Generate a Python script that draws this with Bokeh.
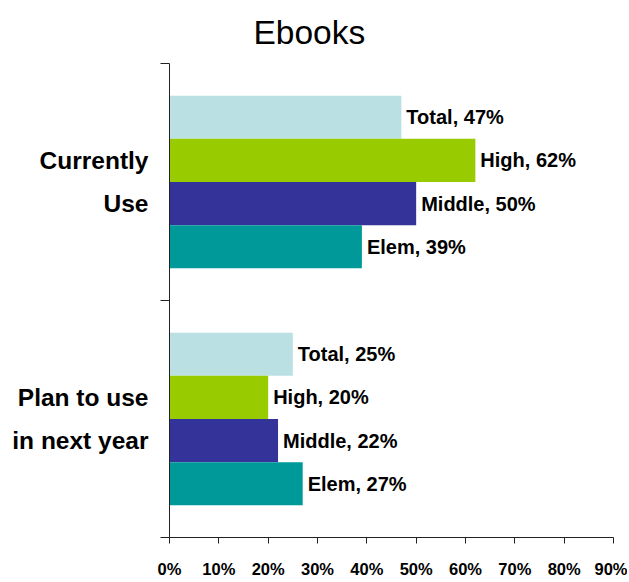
from bokeh.plotting import figure
from bokeh.models import ColumnDataSource, FixedTicker, Range1d
from bokeh.core.properties import value
from bokeh.embed import file_html
from bokeh.resources import INLINE

# ---- data ----
groups = ["Currently\nUse", "Plan to use\nin next year"]
series = ["Total", "High", "Middle", "Elem"]
currently_use = [47, 62, 50, 39]
plan_next_year = [25, 20, 22, 27]
x_ticks = [0, 10, 20, 30, 40, 50, 60, 70, 80, 90]
x_tick_labels = ["0%", "10%", "20%", "30%", "40%", "50%", "60%", "70%", "80%", "90%"]
colors = ["#BAE0E4", "#99CC00", "#333399", "#009999"]

FONT = "Liberation Sans"

# group centres: first group on top
group_pos = [1.5, 0.5]
offsets = [0.273, 0.091, -0.091, -0.273]
bar_h = 0.182

ys, rights, cols, labels = [], [], [], []
for gi, vals in enumerate([currently_use, plan_next_year]):
    for si, v in enumerate(vals):
        ys.append(group_pos[gi] + offsets[si])
        rights.append(v)
        cols.append(colors[si])
        labels.append(f"{series[si]}, {v}%")

src = ColumnDataSource(dict(y=ys, right=rights, color=cols, label=labels))

p = figure(frame_width=444, frame_height=474, output_backend="svg", toolbar_location=None,
           x_range=Range1d(0, 90), y_range=Range1d(0, 2),
           min_border_left=169, min_border_right=14, min_border_top=63,
           min_border_bottom=10, title="Ebooks")
p.outline_line_color = None
p.xgrid.grid_line_color = None
p.ygrid.grid_line_color = None

p.title.text_font = FONT
p.title.text_font_style = "normal"
p.title.text_font_size = "33.5px"
p.title.text_color = "black"
p.title.align = "left"
p.title.vertical_align = "top"
p.title.offset = 84
p.title.standoff = 22

p.hbar(y="y", left=0, right="right", height=bar_h, color="color", line_color=None, source=src)
p.text(x="right", y="y", text="label", source=src, x_offset=5, text_baseline="middle",
       text_align="left", text_font=value(FONT), text_font_style="bold",
       text_font_size="20px", text_color="black")

# x axis
xa = p.xaxis[0]
xa.ticker = FixedTicker(ticks=x_ticks, minor_ticks=[])
xa.major_label_overrides = {t: l for t, l in zip(x_ticks, x_tick_labels)}
xa.major_tick_in = 0
xa.major_tick_out = 6
xa.minor_tick_line_color = None
xa.axis_line_color = "#222222"
xa.major_tick_line_color = "#222222"
xa.major_label_text_font = FONT
xa.major_label_text_font_style = "bold"
xa.major_label_text_font_size = "16.5px"
xa.major_label_text_color = "black"
xa.major_label_standoff = 16

# y axis: boundary ticks as minor ticks, category names at group centres
ya = p.yaxis[0]
ya.ticker = FixedTicker(ticks=group_pos, minor_ticks=[0, 1, 2])
ya.major_label_overrides = {group_pos[i]: groups[i] for i in range(len(groups))}
ya.major_tick_in = 0
ya.major_tick_out = 0
ya.major_tick_line_color = None
ya.minor_tick_in = 0
ya.minor_tick_out = 9
ya.minor_tick_line_color = "#222222"
ya.axis_line_color = "#222222"
ya.major_label_text_font = FONT
ya.major_label_text_font_style = "bold"
ya.major_label_text_font_size = "24.5px"
ya.major_label_text_line_height = 1.6
ya.major_label_text_align = "center"
ya.major_label_text_color = "black"
ya.major_label_standoff = 12

open("out.html", "w").write(file_html(p, INLINE))
